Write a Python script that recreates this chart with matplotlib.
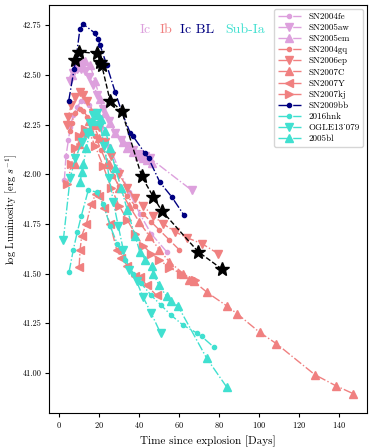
import numpy as np
import matplotlib
matplotlib.use("Agg")
import matplotlib.pyplot as plt

# ==========================================
# Fonts (TeX-like look)
# ==========================================
plt.rcParams['font.family'] = ['cmr10', 'DejaVu Serif']
plt.rcParams['mathtext.fontset'] = 'cm'
plt.rcParams['axes.formatter.use_mathtext'] = True
plt.rcParams['axes.unicode_minus'] = False

# ==========================================
# Data (days since explosion, log L)
# ==========================================
# Ic
sn2004fe_t = [2.5, 3.3, 4.5, 5.5, 7, 9, 11, 13, 15, 18, 21, 25, 30, 35, 40.3, 46, 53.7]
sn2004fe_L = [41.97, 42.09, 42.17, 42.24, 42.30, 42.34, 42.37, 42.37, 42.35, 42.30, 42.24, 42.14,
              42.02, 41.91, 41.80, 41.70, 41.61]
sn2005aw_t = [5.5, 7, 9, 11, 13, 15, 17, 19, 22, 25, 28, 31, 34, 37, 40, 43, 45.5, 66.2]
sn2005aw_L = [42.47, 42.51, 42.53, 42.53, 42.52, 42.49, 42.45, 42.40, 42.33, 42.27, 42.21, 42.17,
              42.14, 42.12, 42.10, 42.09, 42.08, 41.92]
sn2005em_t = [6.2, 8, 10, 11.2, 13, 15.4, 17.8, 20.4, 23, 25.4, 28, 31.9, 34, 37, 40, 42, 44, 46.2]
sn2005em_L = [42.50, 42.54, 42.56, 42.57, 42.57, 42.55, 42.47, 42.38, 42.31, 42.26, 42.21, 42.16,
              42.13, 42.11, 42.09, 42.08, 42.07, 42.055]

# Ib
sn2004gq_t = [5.5, 6.2, 8, 10.4, 12, 14, 16, 18, 21, 24, 27, 30, 34, 38, 42, 46, 50, 55, 60]
sn2004gq_L = [42.22, 42.26, 42.31, 42.33, 42.32, 42.29, 42.24, 42.19, 42.12, 42.05, 41.99, 41.94,
              41.89, 41.84, 41.80, 41.76, 41.72, 41.67, 41.62]
sn2006ep_t = [3.7, 4.5, 6, 8, 10.4, 12, 14, 17, 20, 23, 26, 30, 34, 38, 42, 47, 52, 58, 64, 71.5, 79.5]
sn2006ep_L = [42.25, 42.29, 42.35, 42.39, 42.415, 42.40, 42.37, 42.31, 42.24, 42.16, 42.09, 42.00,
              41.93, 41.88, 41.84, 41.79, 41.75, 41.71, 41.68, 41.65, 41.60]
sn2007C_t = [8, 10, 12, 15, 17, 20, 25, 30, 35, 40, 45, 50, 55, 62, 65, 67.4, 74, 83.7, 89,
             100.3, 108.7, 127.9, 138.3, 147]
sn2007C_L = [42.05, 42.15, 42.22, 42.27, 42.25, 42.18, 42.05, 41.93, 41.84, 41.76, 41.69, 41.62,
             41.56, 41.50, 41.47, 41.46, 41.405, 41.338, 41.298, 41.204, 41.147, 40.991, 40.936, 40.896]
sn2007Y_t = [9.9, 10.4, 11.2, 13.5, 16, 18.2, 20, 22.5, 25.4, 28.7, 31, 34, 37.9, 40.4, 43.7, 48.7]
sn2007Y_L = [41.535, 41.62, 41.69, 41.75, 41.85, 41.90, 41.89, 41.83, 41.75, 41.62, 41.58, 41.54,
             41.49, 41.485, 41.44, 41.39]
sn2007kj_t = [4, 6, 8, 10, 13, 15, 18, 22, 26, 30, 34, 38, 42, 46, 50, 55, 61, 68]
sn2007kj_L = [41.95, 42.05, 42.13, 42.19, 42.23, 42.21, 42.14, 42.04, 41.93, 41.84, 41.77, 41.70,
              41.64, 41.60, 41.57, 41.53, 41.50, 41.47]

# Ic BL
sn2009bb_t = [4.7, 7.4, 8.3, 10.3, 12.0, 17.9, 19.2, 20.4, 23.7, 27.9, 31.2, 35.4, 37.0, 42.9,
              44.7, 50.3, 56.2, 62.2]
sn2009bb_L = [42.37, 42.53, 42.58, 42.73, 42.755, 42.71, 42.68, 42.65, 42.55, 42.415, 42.315, 42.21,
              42.19, 42.105, 42.08, 41.96, 41.887, 41.797]

# Sub-Ia
hnk_t = [4.9, 7, 9, 11, 14.5, 18.7, 22, 25.4, 29, 33, 37, 41, 46, 51, 56, 62, 69, 71.2, 77.3]
hnk_L = [41.51, 41.62, 41.71, 41.79, 41.92, 41.91, 41.85, 41.74, 41.65, 41.57, 41.50, 41.45,
         41.39, 41.34, 41.29, 41.24, 41.20, 41.184, 41.13]
ogle_t = [2, 5.4, 8, 11.2, 13.7, 15.4, 17, 18.7, 20.5, 22.5, 25, 27, 29.5, 32, 35, 38.7, 42, 46, 50.7]
ogle_L = [41.67, 41.98, 42.08, 42.16, 42.21, 42.26, 42.30, 42.31, 42.25, 42.14, 41.98, 41.86,
          41.74, 41.62, 41.52, 41.46, 41.38, 41.30, 41.20]
bl_t = [10.4, 11.2, 12, 13.5, 15.4, 17, 19.5, 21, 23, 25.5, 28, 31, 34, 37.9, 40.3, 43, 46.2, 47,
        50, 53.7, 56, 59.5, 73.7, 83.7]
bl_L = [41.96, 42.01, 42.05, 42.13, 42.22, 42.27, 42.30, 42.28, 42.22, 42.13, 42.03, 41.93, 41.82,
        41.69, 41.61, 41.57, 41.54, 41.50, 41.44, 41.385, 41.36, 41.335, 41.075, 40.93]

# object of interest (black stars)
star_t = [7.9, 10.0, 19.0, 20.4, 21.2, 25.4, 31.2, 41.2, 47.0, 51.2, 69.5, 81.2]
star_L = [42.574, 42.616, 42.608, 42.566, 42.55, 42.37, 42.32, 41.99, 41.887, 41.817, 41.61, 41.524]

IC, IB, ICBL, SUBIA = 'plum', 'lightcoral', 'navy', 'turquoise'

series = [
    ('SN2004fe', sn2004fe_t, sn2004fe_L, IC, '.'),
    ('SN2005aw', sn2005aw_t, sn2005aw_L, IC, 'v'),
    ('SN2005em', sn2005em_t, sn2005em_L, IC, '^'),
    ('SN2004gq', sn2004gq_t, sn2004gq_L, IB, '.'),
    ('SN2006ep', sn2006ep_t, sn2006ep_L, IB, 'v'),
    ('SN2007C', sn2007C_t, sn2007C_L, IB, '^'),
    ('SN2007Y', sn2007Y_t, sn2007Y_L, IB, '<'),
    ('SN2007kj', sn2007kj_t, sn2007kj_L, IB, '>'),
    ('SN2009bb', sn2009bb_t, sn2009bb_L, ICBL, '.'),
    ('2016hnk', hnk_t, hnk_L, SUBIA, '.'),
    ('OGLE13_079', ogle_t, ogle_L, SUBIA, 'v'),
    ('2005bl', bl_t, bl_L, SUBIA, '^'),
]

# ==========================================
# Plot
# ==========================================
fig = plt.figure(figsize=(3.74, 4.48), dpi=100)
ax = fig.add_axes([0.132, 0.079, 0.849, 0.909])

for name, t, L, col, mk in series:
    ax.plot(t, L, linestyle='-.', marker=mk, color=col, ms=6, lw=1, label=name)

ax.plot(star_t, star_L, 'k--', marker='*', ms=10, lw=1, zorder=5)

# class labels at top
ax.text(40.3, 42.725, 'Ic', color=IC, fontsize=10, va='center')
ax.text(50.3, 42.725, 'Ib', color=IB, fontsize=10, va='center')
ax.text(60.3, 42.725, 'Ic BL', color=ICBL, fontsize=10, va='center')
ax.text(83.3, 42.725, 'Sub-Ia', color=SUBIA, fontsize=10, va='center')

ax.set_xlim(-5, 154)
ax.set_ylim(40.80, 42.85)
ax.set_xticks([0, 20, 40, 60, 80, 100, 120, 140])
ax.set_yticks([41.0, 41.25, 41.5, 41.75, 42.0, 42.25, 42.5, 42.75])
ax.yaxis.set_major_formatter(matplotlib.ticker.FormatStrFormatter('%.2f'))
ax.tick_params(labelsize=6, length=3, pad=2.5)
ax.set_xlabel('Time since explosion [Days]', fontsize=8)
ax.set_ylabel('log Luminosity [erg $s^{-1}$]', fontsize=7.5, labelpad=2)
ax.legend(loc='upper right', fontsize=6.5, labelspacing=0.3, handlelength=2.6,
          borderaxespad=0.4)

fig.savefig('out.png', dpi=100)
